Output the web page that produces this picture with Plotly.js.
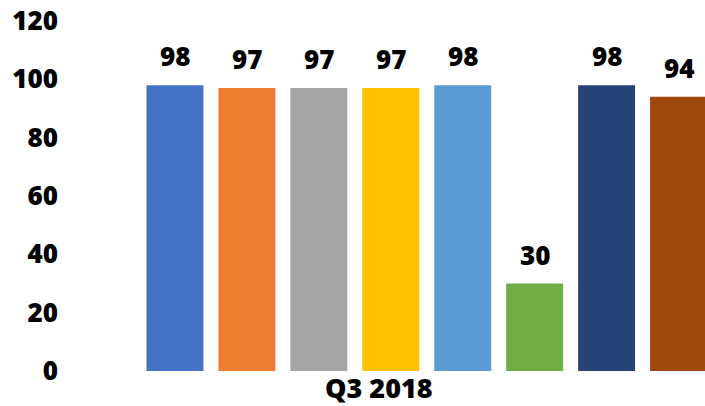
<!DOCTYPE html>
<html><head><meta charset="utf-8">
<script src="https://cdn.plot.ly/plotly-3.0.1.min.js"></script>
<style>html,body{margin:0;padding:0;background:#fff;}#chart{width:705px;height:406px;}</style>
</head><body><div id="chart"></div>
<script>
const category = "Q3 2018";
const seriesNames = ["Series 1","Series 2","Series 3","Series 4","Series 5","Series 6","Series 7","Series 8"];
const values = [98, 97, 97, 97, 98, 30, 98, 94];
const colors = ["#4472C4","#ED7D31","#A5A5A5","#FFC000","#5B9BD5","#70AD47","#264478","#9E480E"];
const yTicks = [0, 20, 40, 60, 80, 100, 120];

const FONT = "'Open Sans', Lato, sans-serif";
const trace = {
  type: "bar", x: seriesNames, y: values,
  marker: {color: colors}, hoverinfo: "none"
};
const annotations = seriesNames.map((n, i) => ({
  x: n, y: values[i], xref: "x", yref: "y", text: String(values[i]),
  showarrow: false, yanchor: "bottom", yshift: 9,
  font: {family: FONT, size: 26, color: "#000", weight: 800}
}));
annotations.push({
  x: 0.4245, y: 0.012, xref: "paper", yref: "paper", text: category,
  showarrow: false, yanchor: "top", xanchor: "center",
  font: {family: FONT, size: 27, color: "#000", weight: 800}
});
const layout = {
  width: 705, height: 406,
  margin: {l: 138.5, r: 0, t: 21, b: 35},
  paper_bgcolor: "#fff", plot_bgcolor: "#fff",
  showlegend: false, bargap: 15/72,
  xaxis: {range: [-0.5, 7.368], showticklabels: false, showgrid: false, zeroline: false, showline: false, ticks: "", fixedrange: true},
  yaxis: {range: [0, 120], tickvals: yTicks, ticktext: yTicks.map(String), showgrid: false, zeroline: false, showline: false,
          ticks: "", ticklabelstandoff: 80, tickfont: {family: FONT, size: 26, color: "#000", weight: 800}},
  annotations: annotations
};
Plotly.newPlot("chart", [trace], layout, {displayModeBar: false, staticPlot: true});
</script></body></html>
